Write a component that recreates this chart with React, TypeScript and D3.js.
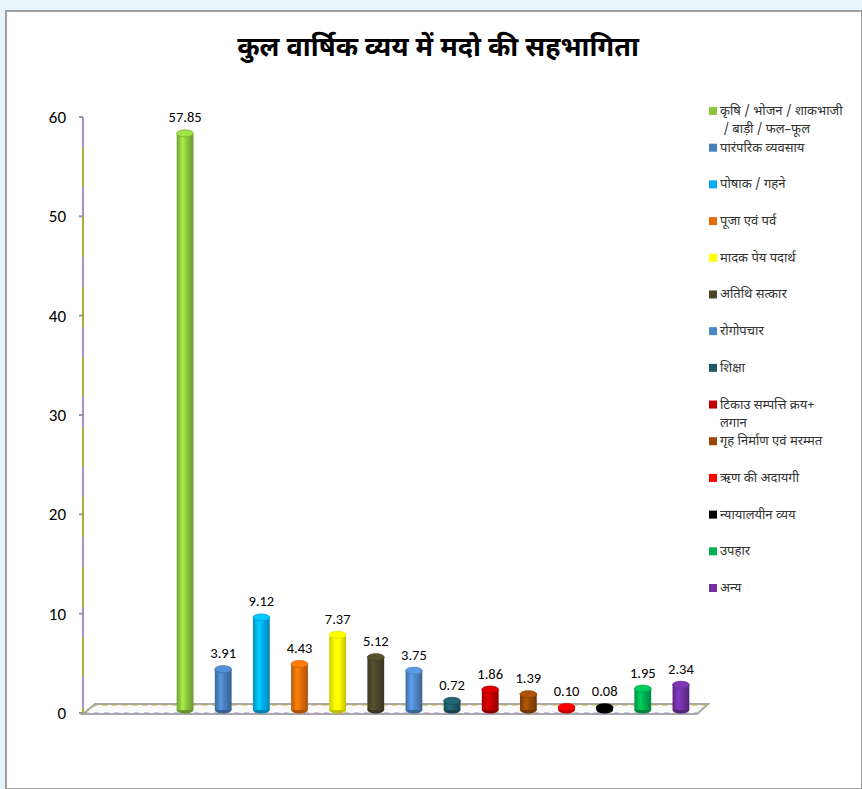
import React from "react";
import * as d3 from "d3";

const title = "कुल वार्षिक व्यय में मदो की सहभागिता";
const categories = [
  "कृषि / भोजन / शाकभाजी\n / बाड़ी / फल–फूल",
  "पारंपरिक व्यवसाय",
  "पोषाक / गहने",
  "पूजा एवं पर्व",
  "मादक पेय पदार्थ",
  "अतिथि सत्कार",
  "रोगोपचार",
  "शिक्षा",
  "टिकाउ सम्पत्ति क्रय+\nलगान",
  "गृह निर्माण एवं मरम्मत",
  "ऋण की अदायगी",
  "न्यायालयीन व्यय",
  "उपहार",
  "अन्य",
];
const values = [57.85, 3.91, 9.12, 4.43, 7.37, 5.12, 3.75, 0.72, 1.86, 1.39, 0.1, 0.08, 1.95, 2.34];
const labels = ["57.85", "3.91", "9.12", "4.43", "7.37", "5.12", "3.75", "0.72", "1.86", "1.39", "0.10", "0.08", "1.95", "2.34"];
const colors = [
  "#8cc63e", "#4a7ebb", "#00aeef", "#e36c0a", "#ffff00", "#4a452a", "#4f86c6",
  "#1f5a68", "#c00000", "#974806", "#ff0000", "#000000", "#00b050", "#7030a0",
];
const yTicks = [0, 10, 20, 30, 40, 50, 60];

const W = 862, H = 789;
const devFont = "'Noto Sans Devanagari', 'Noto Sans', 'Lohit Devanagari', sans-serif";
const numFont = "Carlito, 'Open Sans', 'Noto Sans', sans-serif";

export default function App() {
  const y = d3.scaleLinear().domain([0, 60]).range([713, 117]);
  const x = d3.scaleBand().domain(categories).range([166, 700]).paddingInner(0.56).paddingOuter(0.28);
  const bw = x.bandwidth();
  const lift = 5;
  const base = y(0) - 3;
  const ry = 3.5;
  const legendY = d3.scaleLinear().domain([0, categories.length - 1]).range([111, 588]);

  return (
    <svg width={W} height={H} style={{ position: "absolute", left: 0, top: 0, display: "block" }}>
      <defs>
        {colors.map((c, i) => {
          const cc = d3.color(c)!;
          return (
            <linearGradient key={i} id={`g${i}`} x1="0" x2="1" y1="0" y2="0">
              <stop offset="0%" stopColor={cc.darker(0.6).toString()} />
              <stop offset="35%" stopColor={cc.brighter(0.5).toString()} />
              <stop offset="60%" stopColor={c} />
              <stop offset="100%" stopColor={cc.darker(0.8).toString()} />
            </linearGradient>
          );
        })}
      </defs>
      <rect x={0} y={0} width={W} height={H} fill="#e7f4fb" />
      <rect x={6} y={11} width={W - 6} height={H - 11} fill="#ffffff" stroke="#a0a0a0" strokeWidth={2} />
      <text x={438} y={56} textAnchor="middle" fontFamily={devFont} fontWeight="bold" fontSize={27} fill="#000">
        {title}
      </text>

      {/* floor */}
      <polygon points={`83,714 95,704 708,704 697,714`} fill="#fafafa" stroke="#a8a8a8" strokeWidth={2} />
      <polyline points={`84,713 96,705 707,705`} fill="none" stroke="#b9b24a" strokeWidth={1} strokeDasharray="6 4" />
      <line x1={84} x2={697} y1={713} y2={713} stroke="#a48fc9" strokeWidth={1} strokeDasharray="5 5" />

      {/* y axis */}
      <line x1={83} x2={83} y1={y(60)} y2={y(0)} stroke="#b3a63a" strokeWidth={2} />
      <line x1={83} x2={83} y1={y(60)} y2={y(0)} stroke="#a78fd0" strokeWidth={2} strokeDasharray="30 40" />
      {yTicks.map((t) => (
        <g key={t}>
          <line x1={79} x2={83} y1={y(t)} y2={y(t)} stroke="#999" strokeWidth={2} />
          <text x={66} y={y(t) + 6} textAnchor="end" fontFamily={numFont} fontSize={17} fill="#000">
            {t}
          </text>
        </g>
      ))}

      {/* bars */}
      {categories.map((c, i) => {
        const x0 = x(c)!;
        const cx = x0 + bw / 2;
        const top = Math.min(y(values[i]) - lift, base - 2);
        const cc = d3.color(colors[i])!;
        return (
          <g key={i}>
            <ellipse cx={cx} cy={base} rx={bw / 2} ry={ry} fill={cc.darker(0.8).toString()} />
            <rect x={x0} y={top} width={bw} height={base - top} fill={`url(#g${i})`} />
            <ellipse cx={cx} cy={top} rx={bw / 2} ry={ry} fill={cc.brighter(0.4).toString()} stroke={cc.darker(0.3).toString()} strokeWidth={0.8} />
            <text x={cx} y={top - 11} textAnchor="middle" fontFamily={numFont} fontSize={14.5} fill="#000">
              {labels[i]}
            </text>
          </g>
        );
      })}

      {/* legend */}
      {categories.map((c, i) => {
        const ly = legendY(i);
        const lines = c.split("\n");
        return (
          <g key={i}>
            <rect x={709} y={ly - 4} width={8} height={8} fill={colors[i]} />
            {lines.map((ln, j) => (
              <text key={j} x={720} y={ly + 4 + j * 18} fontFamily={devFont} fontSize={13} fill="#333" style={{ whiteSpace: "pre" }}>
                {ln}
              </text>
            ))}
          </g>
        );
      })}
    </svg>
  );
}
